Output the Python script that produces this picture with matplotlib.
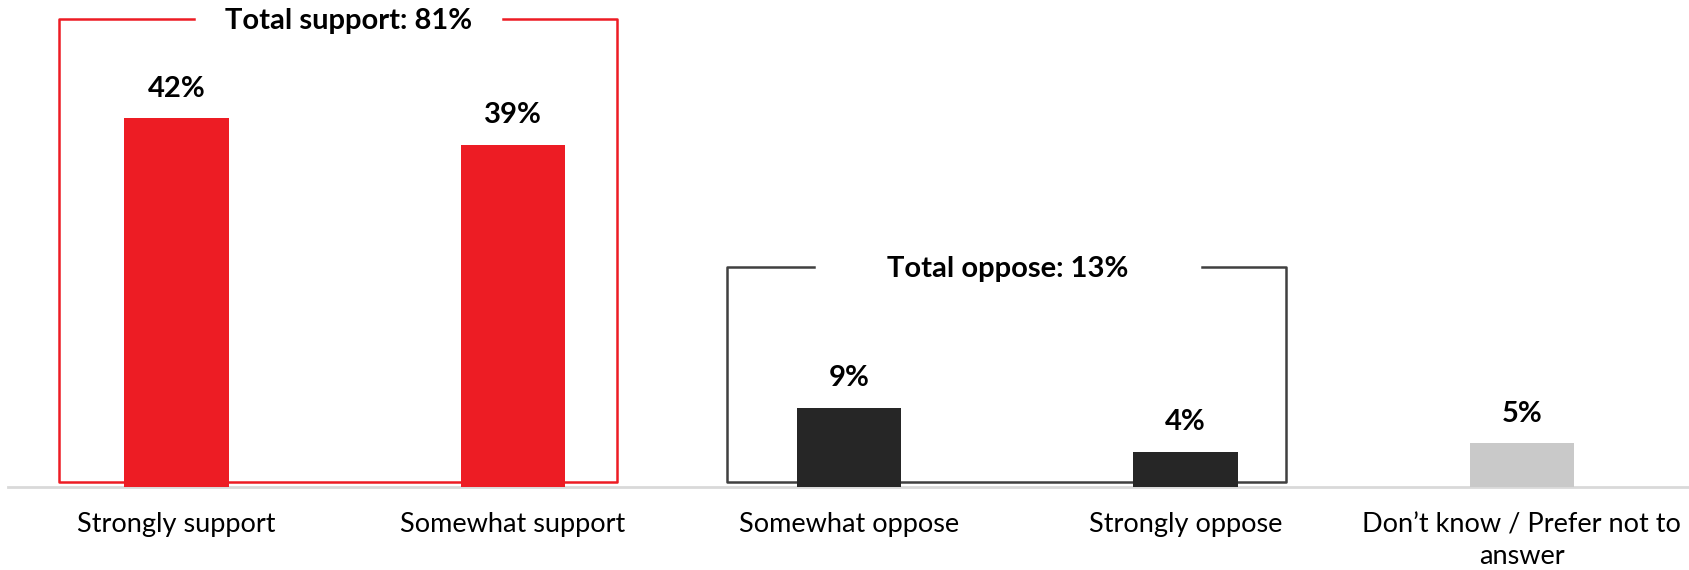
import matplotlib; matplotlib.use("Agg")
import matplotlib.pyplot as plt

categories = ["Strongly support", "Somewhat support", "Somewhat oppose",
              "Strongly oppose", "Don\u2019t know / Prefer not to\nanswer"]
values = [42, 39, 9, 4, 5]
bar_colors = ["#ED1C24", "#ED1C24", "#262626", "#262626", "#C9C9C9"]
support_idx = [0, 1]
oppose_idx = [2, 3]

plt.rcParams.update({"font.family": ["Lato", "DejaVu Sans"]})
RED, DARK = "#ED1C24", "#404040"

fig = plt.figure(figsize=(16.9, 5.7), dpi=100)
ax = fig.add_axes([0.005, 0.1455, 0.995, 0.8545])
xs = list(range(len(values)))
ax.bar(xs, values, width=0.31, color=bar_colors, zorder=3)
for x, v in zip(xs, values):
    ax.annotate(f"{v}%", (x, v), xytext=(0, 12), textcoords="offset points",
                ha="center", va="bottom", fontsize=21, fontweight="bold")

ax.set_xlim(-0.5, 4.5)
ax.set_ylim(0, 55.5)
ax.set_xticks(xs)
ax.set_xticklabels(categories, fontsize=19.5, linespacing=1.35)
ax.tick_params(axis="x", length=0, pad=18)
ax.set_yticks([])
for s in ("top", "right", "left"):
    ax.spines[s].set_visible(False)
ax.spines["bottom"].set_color("#D9D9D9")
ax.spines["bottom"].set_linewidth(2)


def group_box(x0, x1, top, g0, g1, color, label):
    # open-topped frame with a gap for the heading
    kw = dict(color=color, lw=1.8, clip_on=False, zorder=2, solid_capstyle="projecting")
    bot = 0.6
    ax.plot([g0, x0, x0, x1, x1, g1], [top, top, bot, bot, top, top], **kw)
    ax.text((g0 + g1) / 2, top - 0.2, label, ha="center", va="center",
            fontsize=21, fontweight="bold")


total_sup = sum(values[i] for i in support_idx)
total_opp = sum(values[i] for i in oppose_idx)
group_box(-0.35, 1.31, 53.3, 0.051, 0.971, RED, f"Total support: {total_sup}%")
group_box(1.638, 3.30, 25.1, 1.894, 3.048, DARK, f"Total oppose: {total_opp}%")

fig.savefig("out.png", dpi=100)
